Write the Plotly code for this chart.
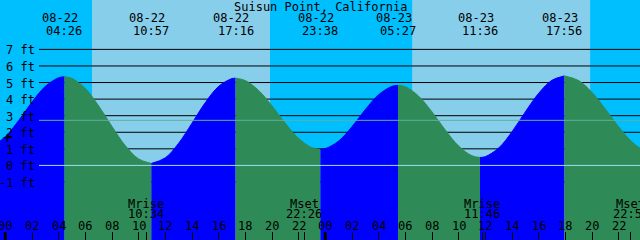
import plotly.graph_objects as go

TITLE = "Suisun Point, California"

# Hours since 08-22 00:00, tide height in feet
tide_t = [-1.5, -1, 0, 1, 2, 3, 4, 4.433, 5, 6, 7, 8, 9, 10, 10.95,
          12, 13, 14, 15, 16, 17, 17.267, 18, 19, 20, 21, 22, 23, 23.633,
          24, 25, 26, 27, 28, 29, 29.45, 30, 31, 32, 33, 34, 35, 35.6,
          36, 37, 38, 39, 40, 41, 41.933, 43, 44, 45, 46, 47, 48, 48.667]
tide_h = [1.10, 1.17, 1.74, 2.71, 3.82, 4.77, 5.29, 5.35, 5.25, 4.64, 3.59, 2.35, 1.19, 0.39, 0.12,
          0.46, 1.34, 2.55, 3.79, 4.77, 5.24, 5.26, 5.12, 4.52, 3.59, 2.54, 1.63, 1.07, 0.97,
          1.01, 1.47, 2.34, 3.37, 4.27, 4.77, 4.83, 4.75, 4.18, 3.23, 2.13, 1.17, 0.58, 0.48,
          0.53, 1.05, 2.03, 3.23, 4.35, 5.14, 5.40, 5.12, 4.40, 3.40, 2.33, 1.42, 0.86, 0.75]

# High / low tide events
event_t = [-1.5, 4.433, 10.95, 17.267, 23.633, 29.45, 35.6, 41.933, 48.667]
event_date = ["08-21", "08-22", "08-22", "08-22", "08-22", "08-23", "08-23", "08-23", "08-24"]
event_time = ["22:30", "04:26", "10:57", "17:16", "23:38", "05:27", "11:36", "17:56", "00:40"]

# Sun (daylight bands) and moon events
sunrise_t = [6.50, 30.51]
sunset_t = [19.85, 43.86]
moon_t = [10.567, 22.433, 35.767, 46.917]
moon_kind = ["Mrise", "Mset", "Mrise", "Mset"]
moon_time = ["10:34", "22:26", "11:46", "22:55"]

# Axis labels
hour_ticks = [0, 2, 4, 6, 8, 10, 12, 14, 16, 18, 20, 22, 24, 26, 28, 30, 32, 34, 36, 38, 40, 42, 44, 46, 48]
hour_labels = ["00", "02", "04", "06", "08", "10", "12", "14", "16", "18", "20", "22",
               "00", "02", "04", "06", "08", "10", "12", "14", "16", "18", "20", "22", "00"]
midnights = [0, 24]
ft_ticks = [7, 6, 5, 4, 3, 2, 1, 0, -1]
ft_labels = ["7 ft", "6 ft", "5 ft", "4 ft", "3 ft", "2 ft", "1 ft", "0 ft", "-1 ft"]
MSL = 2.72
DATUM = 0

# Styling
W, H = 640, 240
X_RANGE = [-0.4, 47.6]
Y_RANGE = [-4.50, 9.98]
NIGHT = "#00BFFF"
DAY = "#87CEEB"
FLOOD = "#0000FF"
EBB = "#2E8B57"
FONT = dict(family="DejaVu Sans Mono", size=12, color="black")


def py(px):
    return 1 - px / H


fig = go.Figure()

# tide fill, one segment per rising / falling stretch
for a, b in zip(event_t[:-1], event_t[1:]):
    i0 = tide_t.index(a)
    i1 = tide_t.index(b)
    xs = tide_t[i0:i1 + 1]
    ys = tide_h[i0:i1 + 1]
    col = FLOOD if ys[-1] > ys[0] else EBB
    fig.add_trace(go.Scatter(x=[xs[0], xs[-1]], y=[Y_RANGE[0], Y_RANGE[0]], mode="lines",
                             line=dict(width=0, color=col), showlegend=False, hoverinfo="skip"))
    fig.add_trace(go.Scatter(x=xs, y=ys, mode="lines", fill="tonexty", fillcolor=col,
                             line=dict(width=1, color=col, shape="spline", smoothing=1),
                             showlegend=False, hoverinfo="skip"))

shapes = []
# daylight bands
for r, s in zip(sunrise_t, sunset_t):
    shapes.append(dict(type="rect", xref="x", yref="paper", x0=r, x1=s, y0=0, y1=1,
                       fillcolor=DAY, line=dict(width=0), layer="below"))
# depth lines (hidden under the water)
for v in ft_ticks:
    shapes.append(dict(type="line", xref="paper", yref="y", x0=39 / W, x1=1, y0=v, y1=v,
                       line=dict(color="black", width=1), layer="below"))
# mean sea level and datum lines
shapes.append(dict(type="line", xref="paper", yref="y", x0=39 / W, x1=1, y0=MSL, y1=MSL,
                   line=dict(color="#5FAFA0", width=1), layer="above"))
shapes.append(dict(type="line", xref="paper", yref="y", x0=39 / W, x1=1, y0=DATUM, y1=DATUM,
                   line=dict(color="#9FDDEE", width=1), layer="above"))
# bold midnight ticks
for m in midnights:
    shapes.append(dict(type="line", xref="x", yref="paper", x0=m, x1=m, y0=0, y1=8 / H,
                       line=dict(color="black", width=3), layer="above"))

ann = []
ann.append(dict(text=TITLE, xref="paper", yref="paper", x=0.5, y=py(6.5), showarrow=False,
                xanchor="center", yanchor="middle", font=FONT))
for t, d, tm in zip(event_t, event_date, event_time):
    ann.append(dict(text=d, xref="x", yref="paper", x=t, y=py(18), xshift=-4.5, showarrow=False,
                    xanchor="center", yanchor="middle", font=FONT))
    ann.append(dict(text=tm, xref="x", yref="paper", x=t, y=py(31), showarrow=False,
                    xanchor="center", yanchor="middle", font=FONT))
for t, k, tm in zip(moon_t, moon_kind, moon_time):
    ann.append(dict(text=k, xref="x", yref="paper", x=t, y=py(203.5), showarrow=False,
                    xanchor="center", yanchor="middle", font=FONT))
    ann.append(dict(text=tm, xref="x", yref="paper", x=t, y=py(213.5), showarrow=False,
                    xanchor="center", yanchor="middle", font=FONT))
for t, lab in zip(hour_ticks, hour_labels):
    ann.append(dict(text=lab, xref="x", yref="paper", x=t, y=py(226), showarrow=False,
                    xanchor="center", yanchor="middle", font=FONT))
for v, lab in zip(ft_ticks, ft_labels):
    ann.append(dict(text=lab, xref="paper", yref="y", x=37 / W, y=v, yshift=-1, showarrow=False,
                    xanchor="right", yanchor="middle", font=FONT))
ann.append(dict(text="+", xref="paper", yref="paper", x=7 / W, y=py(137.5), showarrow=False,
                xanchor="center", yanchor="middle", font=dict(family="DejaVu Sans Mono", size=15, color="black")))

fig.update_layout(
    width=W, height=H, margin=dict(l=0, r=0, t=0, b=0),
    paper_bgcolor=NIGHT, plot_bgcolor=NIGHT,
    shapes=shapes, annotations=ann, showlegend=False,
    xaxis=dict(range=X_RANGE, showgrid=False, zeroline=False, showline=False,
               tickvals=hour_ticks + moon_t, ticktext=[""] * (len(hour_ticks) + len(moon_t)),
               ticks="inside", ticklen=8, tickwidth=1, tickcolor="black", fixedrange=True),
    yaxis=dict(range=Y_RANGE, visible=False, fixedrange=True),
)

fig.write_html("out.html")
